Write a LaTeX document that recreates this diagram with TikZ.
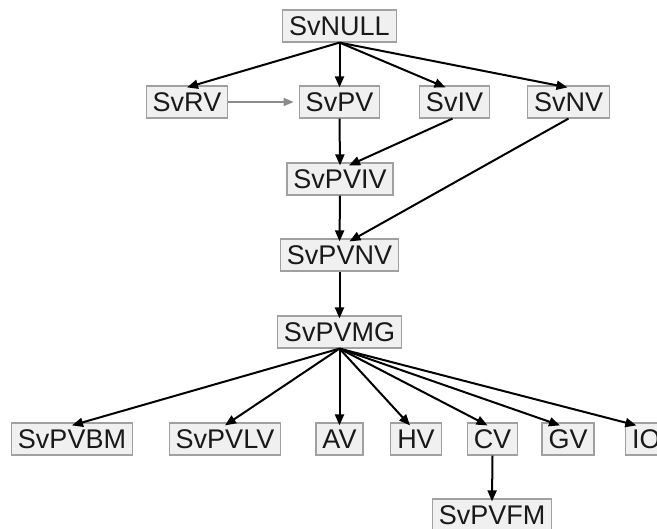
\documentclass[tikz,border=0pt]{standalone}
\usepackage{fontspec}
\setmainfont{Liberation Sans}
\usetikzlibrary{arrows.meta,calc}
\definecolor{boxfill}{HTML}{F0F0F0}
\definecolor{boxline}{HTML}{A0A0A0}
\definecolor{greyarrow}{HTML}{8C8C8C}
\tikzset{
  vbox/.style={draw=boxline, fill=boxfill, line width=1.2bp, inner xsep=6.5bp, inner ysep=0pt,
    minimum height=32bp, font=\fontsize{27bp}{30bp}\selectfont, text=black!90},
  edge/.style={line width=2bp, black, -{Triangle[length=11bp,width=9bp]}},
  greyedge/.style={line width=1.6bp, greyarrow, -{Triangle[length=10bp,width=8bp]}, shorten >=5bp}
}
\begin{document}
\begin{tikzpicture}[x=1bp,y=-1bp]
\useasboundingbox (0,0) rectangle (657,529);
\clip (0,0) rectangle (657,529);
\node[vbox] (null) at (339.5,26) {SvNULL};
\node[vbox] (rv) at (187,102) {SvRV};
\node[vbox] (pv) at (339.5,102) {SvPV};
\node[vbox] (iv) at (454.5,102) {SvIV};
\node[vbox] (nv) at (568.5,102) {SvNV};
\node[vbox] (pviv) at (340,179) {SvPVIV};
\node[vbox] (pvnv) at (339.5,255) {SvPVNV};
\node[vbox] (pvmg) at (339.5,332) {SvPVMG};
\node[vbox] (pvbm) at (72,439) {SvPVBM};
\node[vbox] (pvlv) at (225,439) {SvPVLV};
\node[vbox] (av) at (339.5,439) {AV};
\node[vbox] (hv) at (416,439) {HV};
\node[vbox] (cv) at (492.5,439) {CV};
\node[vbox] (gv) at (568,439) {GV};
\node[vbox, anchor=west] (io) at (625,439) {IO};
\node[vbox] (pvfm) at (492,515) {SvPVFM};

\draw[edge] (null.south) -- ([yshift=-2bp]rv.north);
\draw[edge] (null.south) -- ([yshift=-2bp]pv.north);
\draw[edge] (null.south) -- ([xshift=-9bp,yshift=-2bp]iv.north);
\draw[edge] (null.south) -- ([xshift=-1bp,yshift=-2bp]nv.north);
\draw[greyedge] (rv.east) -- (pv.west);
\draw[edge] (pv.south) -- ([yshift=-3bp]pviv.north);
\draw[edge] ([xshift=-2bp]iv.south) -- ([xshift=9bp,yshift=-3bp]pviv.north);
\draw[edge] (pviv.south) -- ([yshift=-3bp]pvnv.north);
\draw[edge] (nv.south) -- ([xshift=10bp,yshift=-3bp]pvnv.north);
\draw[edge] (pvnv.south) -- ([yshift=-3bp]pvmg.north);
\draw[edge] (pvmg.south) -- ([yshift=-3bp]pvbm.north);
\draw[edge] (pvmg.south) -- ([yshift=-3bp]pvlv.north);
\draw[edge] (pvmg.south) -- ([yshift=-3bp]av.north);
\draw[edge] (pvmg.south) -- ([xshift=-6bp,yshift=-3bp]hv.north);
\draw[edge] (pvmg.south) -- ([xshift=-5bp,yshift=-3bp]cv.north);
\draw[edge] (pvmg.south) -- ([xshift=-8bp,yshift=-3bp]gv.north);
\draw[edge] (pvmg.south) -- ([xshift=-10bp,yshift=-3bp]io.north);
\draw[edge] (cv.south) -- ([yshift=-3bp]pvfm.north);
\end{tikzpicture}
\end{document}
